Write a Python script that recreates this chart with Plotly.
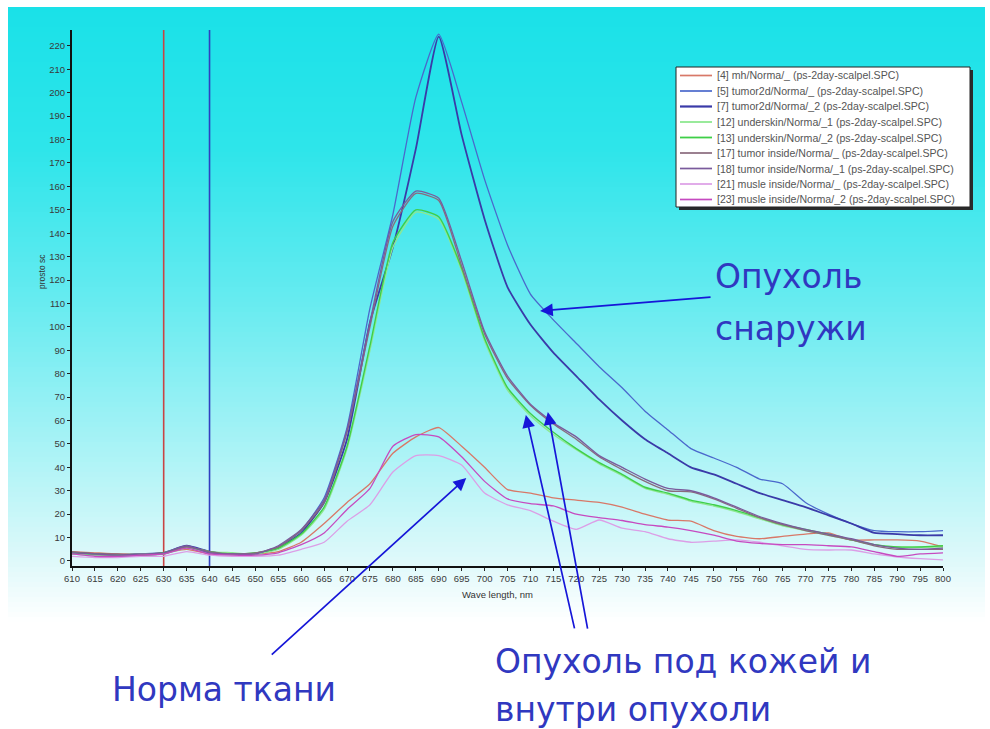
import plotly.graph_objects as go

# ---------------- data ----------------
wavelength = [610, 615, 620, 625, 630, 635, 640, 645, 650, 655, 660, 665, 670, 675,
              680, 685, 690, 695, 700, 705, 710, 715, 720, 725, 730, 735, 740, 745,
              750, 755, 760, 765, 770, 775, 780, 785, 790, 795, 800]

mh_norma = [4, 3.5, 3, 3, 3.5, 5, 3, 3, 3,
            4, 8, 16, 25, 33, 46, 53, 57, 49, 40, 30.5, 29, 27, 26, 25, 23, 20, 17.5,
            17, 13, 10.5, 9.5, 10.5, 11.5, 12, 9, 9, 9, 8.5, 6]
tumor2d_a = [3, 2.5, 2, 2.5, 3, 6, 3.5, 3, 3,
             6, 13, 27, 57, 108, 148, 198, 225, 196, 163, 135, 114, 103, 93, 83, 74, 64, 56,
             48, 44, 40, 35, 33, 25, 20, 16, 13, 12.5, 12.5, 13]
tumor2d_b = [3.5, 3, 2.5, 3, 3.5, 6.5, 4, 3, 3,
             5.5, 12, 25, 52, 102, 134, 176, 224, 182, 146, 117, 101, 89, 79, 69, 60, 52, 46,
             40, 37, 33, 29, 26, 23, 19.5, 16, 12, 11.5, 11, 11]
underskin_1 = [3, 2.5, 2.5, 3, 3, 5.5, 4, 3.5, 3,
               5, 11, 22, 48, 90, 134, 149, 146, 124, 94, 73, 62, 54, 47.5, 41.5, 36.5, 31, 28.5,
               25.5, 23.5, 21, 18, 15, 13, 11, 9, 7, 6, 6, 6]
underskin_2 = [3.5, 3, 2.5, 2.5, 3.5, 6, 4, 3, 3.5,
               5.5, 11.5, 23, 49, 92, 136, 150, 147, 125, 95, 74, 63, 55, 48, 42, 37, 31.5, 29,
               26, 24, 21.5, 18.5, 15.5, 13.5, 11.5, 9, 7, 6, 6, 6.5]
tumor_inside_a = [4, 3, 3, 2.5, 3, 6, 4, 3, 3.5,
                  6, 13, 25, 55, 100, 143, 157, 154, 126, 97, 78, 66.5, 58.5, 52, 44.5, 39, 34, 30,
                  29.5, 26.5, 22.5, 18.5, 15.5, 13, 11, 9, 6.5, 5, 5, 5]
tumor_inside_b = [3.5, 3, 2.5, 3, 3.5, 6.5, 3.5, 3, 3,
                  6.5, 13.5, 26, 56, 102, 145, 158, 155, 128, 98, 79, 67, 59, 53, 45, 40, 35, 31,
                  30, 27, 23, 19, 16, 13.5, 11.5, 9.5, 7, 5.5, 5, 5.5]
musle_inside_a = [2, 1.5, 1.5, 2, 2, 4, 2.5, 2, 2,
                  2.5, 5, 8, 17, 24, 38, 45, 45, 41, 29, 24, 21.5, 17, 13.5, 17.5, 14, 12.5, 9.5,
                  8, 8.5, 9, 8, 6.5, 5, 4.7, 4.7, 3, 1.7, 1, 0.5]
musle_inside_b = [3, 2, 2, 2.5, 3, 5.5, 3, 2.5, 2.5,
                  3.5, 7, 12, 22, 31, 49, 54, 53, 44.5, 34, 26.5, 24.5, 23.5, 20, 18.5, 17.3, 15.5, 14.5,
                  13, 11, 8.5, 7.5, 7, 7, 6.5, 6, 4, 2, 3, 3.5]

series_names = [
    "[4] mh/Norma/_ (ps-2day-scalpel.SPC)",
    "[5] tumor2d/Norma/_ (ps-2day-scalpel.SPC)",
    "[7] tumor2d/Norma/_2 (ps-2day-scalpel.SPC)",
    "[12] underskin/Norma/_1 (ps-2day-scalpel.SPC)",
    "[13] underskin/Norma/_2 (ps-2day-scalpel.SPC)",
    "[17] tumor inside/Norma/_ (ps-2day-scalpel.SPC)",
    "[18] tumor inside/Norma/_1 (ps-2day-scalpel.SPC)",
    "[21] musle inside/Norma/_ (ps-2day-scalpel.SPC)",
    "[23] musle inside/Norma/_2 (ps-2day-scalpel.SPC)",
]
series_values = [mh_norma, tumor2d_a, tumor2d_b, underskin_1, underskin_2,
                 tumor_inside_a, tumor_inside_b, musle_inside_a, musle_inside_b]
series_colors = ["#d87868", "#4a68cc", "#3a3aa8", "#8ee890", "#3fcf48",
                 "#8a6a7c", "#7a5a9c", "#dc9ee6", "#c64ac0"]
series_widths = [1.3, 1.3, 1.8, 1.4, 1.4, 1.3, 1.3, 1.3, 1.3]

marker_lines = [630, 640]
marker_colors = ["#c84444", "#2f3fc0"]

y_ticks = list(range(0, 230, 10))
x_ticks = wavelength

# ---------------- geometry helpers ----------------
W, H = 990, 729
ML, MR, MT, MB = 72, 47, 30, 163
PW, PH = W - ML - MR, H - MT - MB


def px(x):
    return (x - ML) / PW


def py(y):
    return (H - MB - y) / PH


fig = go.Figure()

for name, vals, col, w in zip(series_names, series_values, series_colors, series_widths):
    fig.add_trace(go.Scatter(x=wavelength, y=vals, name=name, mode="lines",
                             line=dict(color=col, width=w, shape="spline", smoothing=0.5),
                             showlegend=False))

shapes = []

# background gradient panel (cyan -> white)
stops = [(7, (26, 225, 232)), (150, (46, 229, 234)), (300, (102, 235, 240)),
         (450, (170, 243, 246)), (560, (222, 249, 250)), (622, (255, 255, 255))]


def col_at(y):
    for (y0, c0), (y1, c1) in zip(stops[:-1], stops[1:]):
        if y0 <= y <= y1:
            t = (y - y0) / (y1 - y0)
            return tuple(round(a + (b - a) * t) for a, b in zip(c0, c1))
    return stops[-1][1]


band = 5
yy = 7
while yy < 622:
    c = col_at(yy + band / 2)
    shapes.append(dict(type="rect", xref="paper", yref="paper",
                       x0=px(8), x1=px(985), y0=py(min(yy + band + 0.6, 622)), y1=py(yy),
                       fillcolor="rgb(%d,%d,%d)" % c, line=dict(width=0), layer="below"))
    yy += band

# vertical marker lines
for xv, c in zip(marker_lines, marker_colors):
    shapes.append(dict(type="line", xref="x", yref="paper", x0=xv, x1=xv, y0=0, y1=1,
                       line=dict(color=c, width=1.6), layer="below"))

# manual legend
lx0, lx1, ly0, ly1 = 676, 970, 67, 207
shapes.append(dict(type="rect", xref="paper", yref="paper",
                   x0=px(lx0 + 3), x1=px(lx1 + 3), y0=py(ly1 + 3), y1=py(ly0 + 3),
                   fillcolor="#2a2a2a", line=dict(width=0), layer="above"))
shapes.append(dict(type="rect", xref="paper", yref="paper",
                   x0=px(lx0), x1=px(lx1), y0=py(ly1), y1=py(ly0),
                   fillcolor="white", line=dict(color="#222", width=1), layer="above"))

annotations = []
row0, dy = 75.5, 15.5
for i, (name, col, w) in enumerate(zip(series_names, series_colors, series_widths)):
    yr = row0 + i * dy
    shapes.append(dict(type="line", xref="paper", yref="paper",
                       x0=px(680), x1=px(712), y0=py(yr), y1=py(yr),
                       line=dict(color=col, width=w + 0.4), layer="above"))
    annotations.append(dict(xref="paper", yref="paper", x=px(715), y=py(yr),
                            xanchor="left", yanchor="middle", showarrow=False,
                            text=name, font=dict(family="Liberation Sans, Arial", size=10.6,
                                                 color="#555555")))

# axis titles
annotations.append(dict(xref="paper", yref="paper", x=px(497), y=py(594), showarrow=False,
                        text="Wave length, nm", xanchor="center", yanchor="middle",
                        font=dict(family="Liberation Sans, Arial", size=9.5, color="#333")))
annotations.append(dict(xref="paper", yref="paper", x=px(42), y=py(272), showarrow=False,
                        text="prosto sc", textangle=-90, xanchor="center", yanchor="middle",
                        font=dict(family="Liberation Sans, Arial", size=8.5, color="#333")))

# Russian labels
label_font = dict(family="DejaVu Sans, Verdana", size=33, color="#3038c0")
for txt, x, y in [("Опухоль", 713, 276), ("снаружи", 713, 328),
                  ("Норма ткани", 110, 689),
                  ("Опухоль под кожей и", 493, 661), ("внутри опухоли", 493, 709)]:
    annotations.append(dict(xref="paper", yref="paper", x=px(x), y=py(y), showarrow=False,
                            text=txt, xanchor="left", yanchor="middle", font=label_font))

# arrows (tip in data coords, tail offset in pixels)
arrow_specs = [(712.1, 106.8, 172, -14), (696.0, 35.5, -196, 178),
               (709.0, 62.4, 49, 215), (713.8, 63.6, 40, 218)]
for xt, yt, ax, ay in arrow_specs:
    annotations.append(dict(xref="x", yref="y", x=xt, y=yt, ax=ax, ay=ay, text="",
                            showarrow=True, arrowhead=2, arrowsize=1.5, arrowwidth=1.7,
                            arrowcolor="#1616d8"))

tick_font = dict(family="Liberation Sans, Arial", size=9.5, color="#3a3a3a")
fig.update_layout(
    width=W, height=H,
    margin=dict(l=ML, r=MR, t=MT, b=MB, autoexpand=False),
    paper_bgcolor="white", plot_bgcolor="rgba(0,0,0,0)",
    shapes=shapes, annotations=annotations, showlegend=False,
    xaxis=dict(range=[610, 800], tickmode="array", tickvals=x_ticks,
               ticktext=[str(v) for v in x_ticks], ticks="outside", ticklen=3,
               tickcolor="#222", showline=True, linecolor="#111", linewidth=2,
               showgrid=False, zeroline=False, tickfont=tick_font),
    yaxis=dict(range=[-2.14, 226.8], tickmode="array", tickvals=y_ticks,
               ticktext=[str(v) for v in y_ticks], ticks="outside", ticklen=3,
               tickcolor="#222", showline=True, linecolor="#111", linewidth=2,
               showgrid=False, zeroline=False, tickfont=tick_font),
)

fig.write_html("out.html")
